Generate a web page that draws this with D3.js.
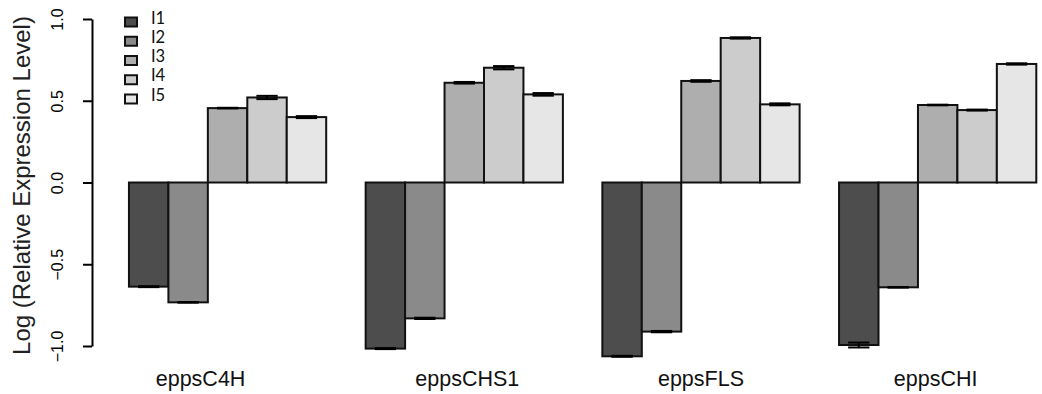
<!DOCTYPE html>
<html>
<head>
<meta charset="utf-8">
<script src="https://cdn.jsdelivr.net/npm/d3@7"></script>
<style>
  body { margin: 0; background: #fff; }
  svg text { font-family: "Liberation Sans", Arial, sans-serif; }
  .legend text { font-family: Lato, "Open Sans", sans-serif; }
</style>
</head>
<body>
<div id="chart"></div>
<script>
// genes on the x axis
var genes = ['eppsC4H', 'eppsCHS1', 'eppsFLS', 'eppsCHI'];
// series (lines)
var series = ['I1', 'I2', 'I3', 'I4', 'I5'];
var colors = ['#4d4d4d', '#8a8a8a', '#aeaeae', '#cccccc', '#e6e6e6'];

// log relative expression per gene, one value per series
var I1 = [-0.637, -1.016, -1.063, -0.994];
var I2 = [-0.733, -0.831, -0.912, -0.641];
var I3 = [0.455, 0.610, 0.621, 0.474];
var I4 = [0.520, 0.702, 0.884, 0.443];
var I5 = [0.400, 0.539, 0.478, 0.725];

// standard errors
var seI1 = [0.003, 0.003, 0.003, 0.015];
var seI2 = [0.002, 0.004, 0.004, 0.002];
var seI3 = [0.002, 0.005, 0.005, 0.002];
var seI4 = [0.010, 0.010, 0.004, 0.003];
var seI5 = [0.006, 0.008, 0.006, 0.004];

var yTicks = [-1.0, -0.5, 0.0, 0.5, 1.0];

var values = [I1, I2, I3, I4, I5];
var errors = [seI1, seI2, seI3, seI4, seI5];

var width = 1042, height = 394;

var svg = d3.select('#chart')
            .append('svg')
            .attr('width', width)
            .attr('height', height);

// R style barplot: every group is 5 bars plus 1 bar of space
var x = d3.scaleLinear().domain([0, genes.length * 6]).range([89.5, 1036.3]);
var y = d3.scaleLinear().domain([-1, 1]).range([346, 19]);
var unit = x(1) - x(0);

var bars = [];
genes.forEach(function(g, gi) {
  series.forEach(function(s, si) {
    bars.push({gene: gi, s: si, v: values[si][gi], se: errors[si][gi], pos: gi * 6 + 1 + si});
  });
});

// Draw the bars.
svg.append('g').selectAll('rect')
   .data(bars)
   .enter().append('rect')
   .attr('x', function(d) { return x(d.pos); })
   .attr('width', unit)
   .attr('y', function(d) { return y(Math.max(0, d.v)); })
   .attr('height', function(d) { return Math.abs(y(d.v) - y(0)); })
   .attr('fill', function(d) { return colors[d.s]; })
   .attr('stroke', '#111')
   .attr('stroke-width', 2);

// Error bars.
var cap = unit * 0.27;
var eb = svg.append('g').attr('stroke', '#000').attr('stroke-width', 2);
bars.forEach(function(d) {
  var cx = x(d.pos + 0.5);
  eb.append('line').attr('x1', cx).attr('x2', cx)
    .attr('y1', y(d.v - d.se)).attr('y2', y(d.v + d.se));
  [d.v - d.se, d.v + d.se].forEach(function(e) {
    eb.append('line').attr('x1', cx - cap).attr('x2', cx + cap)
      .attr('y1', y(e)).attr('y2', y(e));
  });
});

// Y axis.
var axis = svg.append('g')
  .attr('transform', 'translate(92,0)')
  .call(d3.axisLeft(y).tickValues(yTicks).tickSize(9).tickSizeOuter(0)
        .tickFormat(function(d) { return d3.format('.1f')(d).replace('-', '\u2212'); }));
axis.select('.domain').attr('stroke', '#000').attr('stroke-width', 2);
axis.selectAll('.tick line').attr('stroke', '#000').attr('stroke-width', 2);
axis.selectAll('.tick text')
    .attr('font-size', 16)
    .attr('fill', '#000')
    .attr('text-anchor', 'middle')
    .attr('x', 0).attr('dy', 0)
    .attr('transform', 'translate(-29,0) rotate(-90)');

svg.append('text')
   .attr('transform', 'translate(30,' + (y(0) + 3) + ') rotate(-90)')
   .attr('text-anchor', 'middle')
   .attr('font-size', 24)
   .attr('fill', '#222')
   .text('Log (Relative Expression Level)');

// Gene labels under each group.
var labelNudge = [-27, 3, 0, -2];
svg.append('g').selectAll('text')
   .data(genes)
   .enter().append('text')
   .attr('x', function(d, i) { return x(i * 6 + 3.5) + labelNudge[i]; })
   .attr('y', 386)
   .attr('text-anchor', 'middle')
   .attr('font-size', 21.5)
   .attr('fill', '#111')
   .text(function(d) { return d; });

// Legend.
var legend = svg.append('g').attr('class', 'legend');
var ly = d3.scaleLinear().domain([0, 4]).range([22, 99]);
series.forEach(function(s, i) {
  legend.append('rect')
        .attr('x', 125).attr('y', ly(i) - 4.5)
        .attr('width', 12).attr('height', 9)
        .attr('fill', colors[i])
        .attr('stroke', '#111').attr('stroke-width', 2);
  legend.append('text')
        .attr('x', 151).attr('y', ly(i) + 1.5)
        .attr('font-size', 16.5)
        .attr('fill', '#111')
        .text(s);
});
</script>
</body>
</html>
